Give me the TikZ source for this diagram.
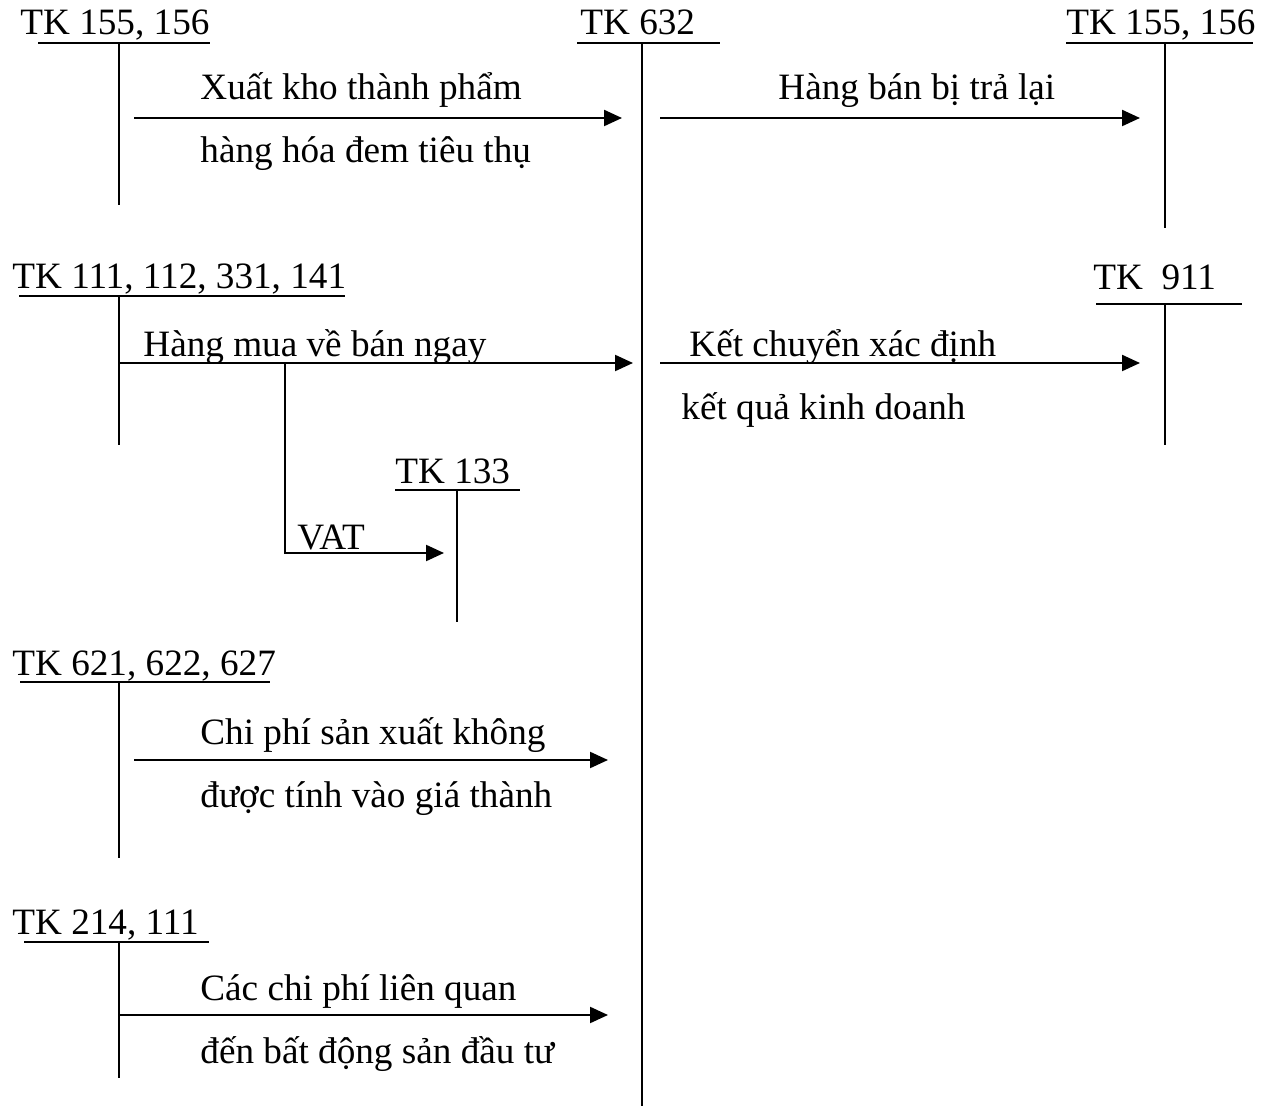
\documentclass[tikz,border=0pt]{standalone}
\usepackage{fontspec}
\setmainfont{Liberation Serif}
\usetikzlibrary{arrows.meta}
\begin{document}
\begin{tikzpicture}[x=0.5pt,y=-0.5pt,
  txt/.style={anchor=base west,inner sep=0pt,font=\fontsize{18.6}{22}\selectfont},
  rule/.style={line width=1.1pt},
  flow/.style={line width=1.1pt,-{Triangle[length=9pt,width=8pt]}}]
\useasboundingbox (0,0) rectangle (1270,1106);

% ---- account titles ----
\node[txt] (t1) at (20,35) {TK 155, 156};
\node[txt] (t2) at (580,35) {TK 632};
\node[txt] (t3) at (1066,35) {TK 155, 156};
\node[txt] (t4) at (12,289) {TK 111, 112, 331, 141};
\node[txt] (t5) at (1093,290) {TK\ \ 911};
\node[txt] (t6) at (395,484) {TK 133};
\node[txt] (t7) at (12,676) {TK 621, 622, 627};
\node[txt] (t8) at (12,935) {TK 214, 111};

% ---- T-account bars: underline and vertical stem ----
\draw[rule] (38,43) -- (210,43);    \draw[rule] (119,43) coordinate (s1) -- (119,205) coordinate (e1);
\draw[rule] (577,43) -- (720,43);   \draw[rule] (642,43) coordinate (s2) -- (642,1106) coordinate (e2);
\draw[rule] (1066,43) -- (1253,43); \draw[rule] (1165,43) coordinate (s3) -- (1165,228) coordinate (e3);
\draw[rule] (19,296) -- (345,296);  \draw[rule] (119,296) coordinate (s4) -- (119,445) coordinate (e4);
\draw[rule] (1096,304) -- (1242,304); \draw[rule] (1165,304) coordinate (s5) -- (1165,445) coordinate (e5);
\draw[rule] (395,490) -- (520,490); \draw[rule] (457,490) coordinate (s6) -- (457,622) coordinate (e6);
\draw[rule] (20,682) -- (270,682);  \draw[rule] (119,682) coordinate (s7) -- (119,858) coordinate (e7);
\draw[rule] (24,942) -- (209,942);  \draw[rule] (119,942) coordinate (s8) -- (119,1078) coordinate (e8);

% ---- entries ----
\coordinate (a1s) at (134,118);  \coordinate (a1e) at (622,118);
\coordinate (a2s) at (660,118);  \coordinate (a2e) at (1140,118);
\coordinate (a3s) at (119,363);  \coordinate (a3e) at (633,363);
\coordinate (a4s) at (660,363);  \coordinate (a4e) at (1140,363);
\coordinate (vb) at (285,363);   \coordinate (vc) at (285,553);  \coordinate (ve) at (444,553);
\coordinate (a5s) at (134,760);  \coordinate (a5e) at (608,760);
\coordinate (a6s) at (119,1015); \coordinate (a6e) at (608,1015);

\draw[flow] (a1s) -- (a1e);
\draw[flow] (a2s) -- (a2e);
\draw[flow] (a3s) -- (a3e);
\draw[flow] (a4s) -- (a4e);
\draw[flow] (vb) -- (vc) -- (ve);
\draw[flow] (a5s) -- (a5e);
\draw[flow] (a6s) -- (a6e);

% ---- entry labels ----
\node[txt] (l1a) at (200,100) {Xuất kho thành phẩm};
\node[txt] (l1b) at (200,163) {hàng hóa đem tiêu thụ};
\node[txt] (l2) at (778,100) {Hàng bán bị trả lại};
\node[txt] (l3) at (143,357) {Hàng mua về bán ngay};
\node[txt] (l4a) at (689,357) {Kết chuyển xác định};
\node[txt] (l4b) at (681,420) {kết quả kinh doanh};
\node[txt] (l5) at (297,550) {VAT};
\node[txt] (l6a) at (200,745) {Chi phí sản xuất không};
\node[txt] (l6b) at (200,808) {được tính vào giá thành};
\node[txt] (l7a) at (200,1000) {Các chi phí liên quan};
\node[txt] (l7b) at (200,1063) {đến bất động sản đầu tư};
\end{tikzpicture}
\end{document}
